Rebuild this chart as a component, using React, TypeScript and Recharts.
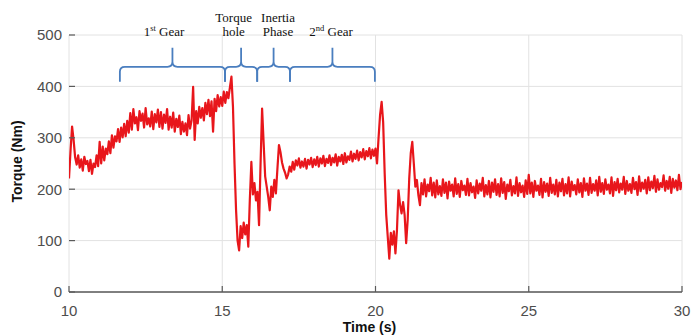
import React from 'react';
import { LineChart, Line, XAxis, YAxis, CartesianGrid, ReferenceArea, ReferenceDot } from 'recharts';

// Sampled torque signal: first sample at 10 s, one sample every 0.05 s
const startTime = 10;
const sampleStep = 0.05;
const torqueValues: number[] = [
  // 10 s
  221, 275, 322, 296, 262, 248, 266, 242, 258, 236, 263, 249, 255, 235, 257, 230, 250, 243, 266, 245,
  // 11 s
  292, 250, 283, 256, 279, 268, 293, 270, 305, 281, 303, 293, 317, 292, 320, 301, 327, 303, 333, 310,
  // 12 s
  348, 316, 356, 328, 340, 315, 352, 333, 347, 320, 358, 326, 338, 322, 351, 317, 346, 330, 355, 321,
  // 13 s
  350, 318, 345, 329, 356, 316, 341, 320, 349, 312, 337, 321, 343, 307, 331, 312, 328, 305, 344, 318,
  // 14 s
  334, 399, 296, 352, 328, 360, 339, 358, 334, 368, 346, 374, 342, 371, 312, 376, 352, 383, 361, 379,
  // 15 s
  362, 390, 368, 389, 377, 398, 419, 360, 250, 160, 100, 81, 128, 105, 135, 112, 130, 88, 180, 253,
  // 16 s
  190, 212, 178, 195, 130, 250, 357, 290, 225, 205, 185, 159, 205, 185, 218, 192, 240, 286, 272, 252,
  // 17 s
  240, 232, 221, 229, 244, 234, 253, 238, 256, 246, 260, 242, 254, 244, 259, 240, 257, 248, 261, 243,
  // 18 s
  258, 247, 263, 244, 260, 250, 265, 245, 259, 251, 266, 247, 261, 252, 268, 246, 263, 254, 267, 249,
  // 19 s
  270, 252, 264, 257, 273, 254, 269, 259, 275, 256, 272, 262, 278, 258, 274, 264, 280, 260, 277, 265,
  // 20 s
  279, 250, 300, 345, 370, 330, 230, 150, 107, 65, 115, 92, 118, 75, 120, 198, 170, 153, 175, 150,
  // 21 s
  95, 140, 220, 270, 292, 250, 205, 218, 188, 169, 212, 190, 219, 186, 209, 196, 222, 188, 213, 184,
  // 22 s
  217, 190, 206, 187, 219, 193, 213, 182, 215, 197, 209, 186, 221, 191, 210, 185, 216, 198, 207, 189,
  // 23 s
  220, 188, 212, 194, 205, 183, 217, 192, 211, 197, 222, 186, 208, 190, 216, 184, 213, 195, 219, 189,
  // 24 s
  210, 186, 221, 193, 214, 181, 209, 196, 218, 188, 206, 192, 223, 187, 212, 194, 207, 185, 217, 191,
  // 25 s
  228, 192, 213, 185, 216, 197, 207, 189, 220, 184, 214, 195, 211, 187, 222, 193, 209, 190, 218, 186,
  // 26 s
  213, 196, 220, 188, 210, 192, 223, 186, 215, 198, 208, 190, 219, 194, 212, 185, 221, 197, 211, 189,
  // 27 s
  222, 193, 210, 197, 217, 188, 224, 195, 212, 191, 219, 199, 209, 192, 223, 187, 214, 198, 220, 194,
  // 28 s
  211, 199, 224, 191, 216, 197, 210, 193, 222, 200, 214, 189, 225, 196, 213, 201, 218, 192, 223, 198,
  // 29 s
  215, 202, 226, 195, 219, 199, 212, 204, 227, 197, 216, 201, 224, 193, 220, 203, 217, 198, 228, 200,
  // 30 s
  214,
];

const xTicks = [10, 15, 20, 25, 30];
const yTicks = [0, 100, 200, 300, 400, 500];

// Phase braces (time spans) and their vertical extent in Nm
const braceStarts = [11.66, 15.09, 16.14, 17.21];
const braceEnds = [15.09, 16.14, 17.21, 19.98];
const braceTip = 409;
const braceBase = 438;
const bracePeak = 475;

// Phase labels
const labelTimes = [13.1, 15.37, 16.82, 18.55];
const labelTopLine = ['', 'Torque', 'Inertia', ''];
const labelMain = ['1', 'hole', 'Phase', '2'];
const labelSup = ['st', '', '', 'nd'];
const labelRest = [' Gear', '', '', ' Gear'];

const data = torqueValues.map((v, i) => ({
  time: +(startTime + i * sampleStep).toFixed(2),
  torque: v,
}));

const sansFont = "'Liberation Sans', Arial, Helvetica, sans-serif";
const serifFont = "'Liberation Serif', 'Times New Roman', serif";

const Brace = (props: any) => {
  const { x, y, width, height } = props;
  const top = y;
  const bottom = y + height;
  const base = bottom - (height * (braceBase - braceTip)) / (bracePeak - braceTip);
  const x1 = x;
  const x2 = x + width;
  const mid = x + width / 2;
  const r = 5;
  const d =
    `M${x1},${bottom} L${x1},${base + r} Q${x1},${base} ${x1 + r},${base} ` +
    `L${mid - r},${base} Q${mid},${base} ${mid},${base - r} L${mid},${top} ` +
    `M${mid},${top} L${mid},${base - r} Q${mid},${base} ${mid + r},${base} ` +
    `L${x2 - r},${base} Q${x2},${base} ${x2},${base + r} L${x2},${bottom}`;
  return <path d={d} fill="none" stroke="#4a7ebf" strokeWidth={1.8} />;
};

const PhaseLabel = (props: any) => {
  const { cx, cy, i } = props;
  return (
    <g>
      {labelTopLine[i] ? (
        <text x={cx} y={cy - 13.5} textAnchor="middle" fontFamily={serifFont} fontSize={13} fill="#111">
          {labelTopLine[i]}
        </text>
      ) : null}
      <text x={cx} y={cy + 1} textAnchor="middle" fontFamily={serifFont} fontSize={13} fill="#111">
        <tspan>{labelMain[i]}</tspan>
        {labelSup[i] ? (
          <>
            <tspan fontSize={8.5} dy={-5}>{labelSup[i]}</tspan>
            <tspan dy={5}>{labelRest[i]}</tspan>
          </>
        ) : null}
      </text>
    </g>
  );
};

const XTick = (props: any) => {
  const { x, y, payload } = props;
  return (
    <g>
      <line x1={x} x2={x} y1={y - 13} y2={y - 19} stroke="#5a5a5a" strokeWidth={1.2} />
      <text x={x} y={y} dy="0.71em" textAnchor="middle" fill="#4d4d4d" fontSize={15} fontFamily={sansFont}>
        {payload.value}
      </text>
    </g>
  );
};

const YTick = (props: any) => {
  const { x, y, payload } = props;
  return (
    <g>
      <line x1={x + 7} x2={x + 13} y1={y} y2={y} stroke="#5a5a5a" strokeWidth={1.2} />
      <text x={x} y={y} dy="0.355em" textAnchor="end" fill="#4d4d4d" fontSize={15} fontFamily={sansFont}>
        {payload.value}
      </text>
    </g>
  );
};

export default function App() {
  return (
    <div style={{ position: 'absolute', left: 0, top: 0, width: 692, height: 335, background: '#fff' }}>
      <LineChart width={692} height={335} data={data} margin={{ top: 35, right: 10, bottom: 0, left: 0 }}>
        <CartesianGrid stroke="#e2e2e2" strokeWidth={1} />
        <XAxis
          dataKey="time"
          type="number"
          domain={[10, 30]}
          ticks={xTicks}
          allowDataOverflow
          height={43}
          tickSize={0}
          tickMargin={13}
          tick={<XTick />}
          axisLine={{ stroke: '#5a5a5a', strokeWidth: 1.6 }}
          tickLine={false}
          label={{
            content: (p: any) => {
              const vb = p.viewBox || { x: 69, y: 292, width: 613, height: 43 };
              return (
                <text
                  x={vb.x + vb.width / 2 - 6}
                  y={vb.y + 40}
                  textAnchor="middle"
                  fontFamily={sansFont}
                  fontSize={14}
                  fontWeight="bold"
                  fill="#111"
                >
                  Time (s)
                </text>
              );
            },
          }}
        />
        <YAxis
          type="number"
          domain={[0, 500]}
          ticks={yTicks}
          width={69}
          tickSize={0}
          tickMargin={7}
          tick={<YTick />}
          axisLine={false}
          tickLine={false}
          label={{
            content: (p: any) => {
              const vb = p.viewBox || { x: 0, y: 35, width: 69, height: 257 };
              const cx = vb.x + 17;
              const cy = vb.y + vb.height / 2 - 2;
              return (
                <text
                  x={cx}
                  y={cy}
                  transform={`rotate(-90 ${cx} ${cy})`}
                  textAnchor="middle"
                  dominantBaseline="central"
                  fontFamily={sansFont}
                  fontSize={14}
                  fontWeight="bold"
                  fill="#111"
                >
                  Torque (Nm)
                </text>
              );
            },
          }}
        />
        <Line
          type="linear"
          dataKey="torque"
          stroke="#e8161b"
          strokeWidth={2.2}
          strokeLinejoin="round"
          dot={false}
          isAnimationActive={false}
        />
        {braceStarts.map((s, i) => (
          <ReferenceArea
            key={'b' + i}
            x1={s}
            x2={braceEnds[i]}
            y1={braceTip}
            y2={bracePeak}
            ifOverflow="visible"
            shape={(p: any) => <Brace {...p} />}
          />
        ))}
        {labelTimes.map((t, i) => (
          <ReferenceDot
            key={'l' + i}
            x={t}
            y={500}
            r={0}
            ifOverflow="visible"
            shape={(p: any) => <PhaseLabel {...p} i={i} />}
          />
        ))}
      </LineChart>
    </div>
  );
}
